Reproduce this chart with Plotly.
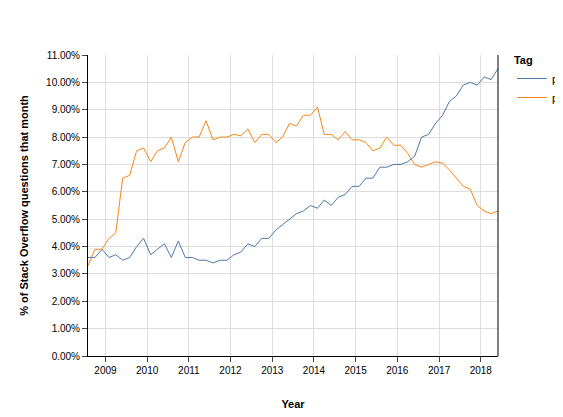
import plotly.graph_objects as go
import pandas as pd

dates = pd.date_range("2008-08-01", periods=60, freq="2MS")
php = [3.3,3.9,3.9,4.3,4.5,6.5,6.6,7.5,7.6,7.1,7.5,7.6,8.0,7.1,7.8,8.0,8.0,8.6,7.9,8.0,
       8.0,8.1,8.05,8.3,7.8,8.1,8.1,7.8,8.0,8.5,8.4,8.8,8.8,9.1,8.1,8.1,7.9,8.2,7.9,7.9,
       7.8,7.5,7.6,8.0,7.7,7.7,7.4,7.0,6.9,7.0,7.1,7.05,6.8,6.5,6.2,6.1,5.5,5.3,5.2,5.3]
python = [3.6,3.6,3.9,3.6,3.7,3.5,3.6,4.0,4.3,3.7,3.9,4.1,3.6,4.2,3.6,3.6,3.5,3.5,3.4,3.5,
          3.5,3.7,3.8,4.1,4.0,4.3,4.3,4.6,4.8,5.0,5.2,5.3,5.5,5.4,5.7,5.5,5.8,5.9,6.2,6.2,
          6.5,6.5,6.9,6.9,7.0,7.0,7.1,7.3,8.0,8.1,8.5,8.8,9.3,9.5,9.9,10.0,9.9,10.2,10.1,10.5]
yticks = [i/100 for i in range(0, 12)]

fig = go.Figure()
fig.add_trace(go.Scatter(x=dates, y=[v/100 for v in python], name="python", mode="lines",
                         line=dict(color="#4c78a8", width=1)))
fig.add_trace(go.Scatter(x=dates, y=[v/100 for v in php], name="php", mode="lines",
                         line=dict(color="#f58518", width=1)))
fig.update_layout(
    width=563, height=417, margin=dict(l=80, r=73, t=47, b=69, autoexpand=False),
    plot_bgcolor="white", paper_bgcolor="white",
    font=dict(family="Arial, Liberation Sans", size=10, color="black"),
    legend=dict(title=dict(text="<b>Tag</b>", font=dict(size=11)), xref="container", yref="container",
                x=0.895, y=0.9, xanchor="left", yanchor="top", font=dict(size=11),
                itemwidth=30, tracegroupgap=0),
    xaxis=dict(title=dict(text="<b>Year</b>", standoff=25, font=dict(size=11)), range=[dates[0], dates[-1]],
               showgrid=True, gridcolor="#dddddd", showline=True, linecolor="black",
               ticks="outside", ticklen=5, dtick="M12", tickformat="%Y"),
    yaxis=dict(title=dict(text="<b>% of Stack Overflow questions that month</b>", font=dict(size=11)),
               range=[0, 0.11], tickvals=yticks, tickformat=".2%",
               showgrid=True, gridcolor="#dddddd", showline=True, linecolor="black",
               ticks="outside", ticklen=5, zeroline=False),
)
fig.add_shape(type="line", xref="paper", yref="paper", x0=1, x1=1, y0=0, y1=1,
              line=dict(color="black", width=1))
fig.write_html("out.html")
